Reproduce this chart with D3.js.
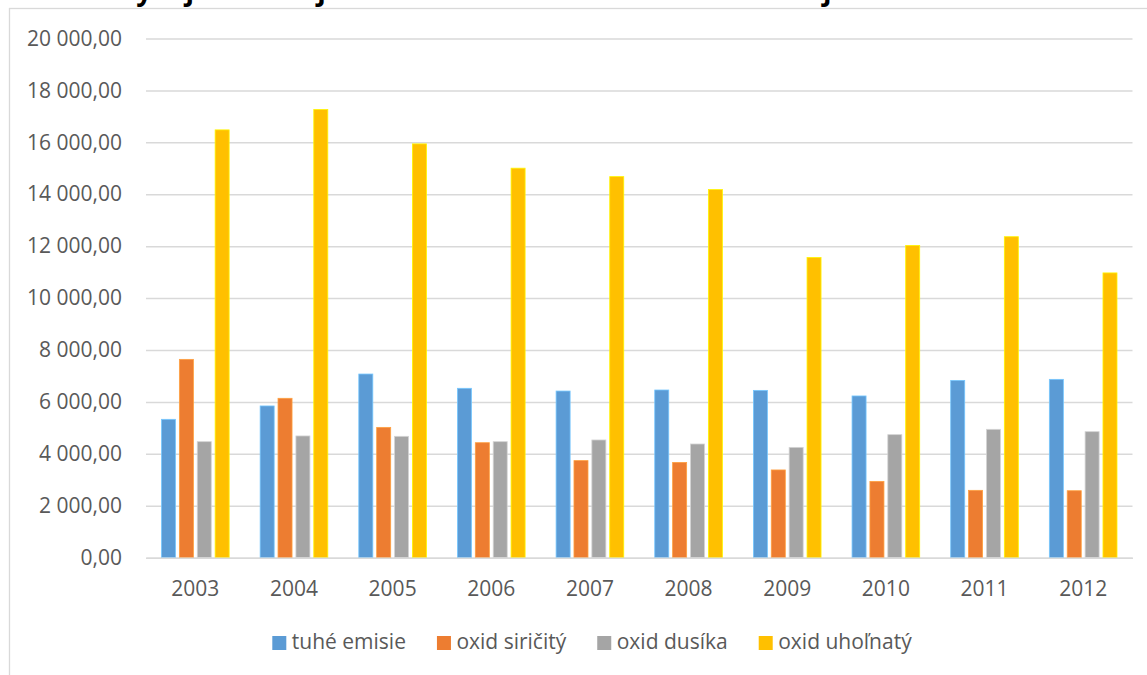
<!DOCTYPE html>
<html>
<head>
<meta charset="utf-8">
<script src="https://cdn.jsdelivr.net/npm/d3@7"></script>
<style>
  html, body { margin: 0; padding: 0; background: #fff; }
  svg { display: block; }
  text { font-family: "Open Sans", "Noto Sans", sans-serif; }
</style>
</head>
<body>
<svg id="chart" width="1147" height="675"></svg>
<script>
const years = ["2003","2004","2005","2006","2007","2008","2009","2010","2011","2012"];
const seriesNames = ["tuhé emisie","oxid siričitý","oxid dusíka","oxid uhoľnatý"];
const seriesColors = ["#5B9BD5","#ED7D31","#A5A5A5","#FFC000"];
const tuheEmisie   = [5330, 5845, 7075, 6525, 6420, 6460, 6445, 6230, 6830, 6870];
const oxidSiricity = [7640, 6140, 5020, 4430, 3740, 3670, 3380, 2940, 2595, 2580];
const oxidDusika   = [4470, 4690, 4675, 4470, 4535, 4380, 4250, 4740, 4945, 4855];
const oxidUholnaty = [16480, 17265, 15940, 15005, 14680, 14180, 11565, 12030, 12365, 10970];
const yTicks = [0,2000,4000,6000,8000,10000,12000,14000,16000,18000,20000];
const titleText = "Vývoj znečisťujúcich látok v Stredoslovenskom kraji v t/rok";

const seriesValues = [tuheEmisie, oxidSiricity, oxidDusika, oxidUholnaty];

const svg = d3.select("#chart");
const W = 1147, H = 675;
const plot = {left: 146, right: 1132.5, top: 38.5, bottom: 557.7};

svg.append("rect").attr("width", W).attr("height", H).attr("fill", "#fff");

// chart area border (extends past the window on right/bottom)
svg.append("rect")
  .attr("x", 9.5).attr("y", 8.5)
  .attr("width", 1200).attr("height", 700)
  .attr("fill", "none").attr("stroke", "#d9d9d9").attr("stroke-width", 1.3);

// title, mostly cut off at top (as in the reference)
svg.append("text")
  .attr("x", 118).attr("y", 0)
  .attr("font-size", 28).attr("font-weight", "bold")
  .attr("fill", "#000")
  .text(titleText);

const locale = d3.formatLocale({decimal: ",", thousands: " ", grouping: [3], currency: ["", " €"]});
const fmt = locale.format(",.2f");

const y = d3.scaleLinear().domain([0, 20000]).range([plot.bottom, plot.top]);
const x0 = d3.scaleBand().domain(years).range([plot.left, plot.right]).padding(0);
const groupPad = 15.5;
const x1 = d3.scaleBand().domain(d3.range(4))
  .range([groupPad, x0.bandwidth() - groupPad]).paddingInner(0.216).paddingOuter(0);

// gridlines
const yAxis = d3.axisLeft(y).tickValues(yTicks).tickSize(-(plot.right - plot.left)).tickFormat(fmt).tickPadding(24);
const gy = svg.append("g").attr("transform", `translate(${plot.left},0)`).call(yAxis);
gy.select(".domain").remove();
gy.selectAll(".tick line").attr("stroke", "#d9d9d9").attr("stroke-width", 1.5);
gy.selectAll(".tick text").attr("font-size", 21).attr("fill", "#595959")
  .attr("font-family", "Open Sans, sans-serif");

// bars
const groups = svg.append("g").selectAll("g").data(years).join("g")
  .attr("transform", d => `translate(${x0(d)},0)`);
groups.selectAll("rect")
  .data((yr, i) => seriesValues.map((arr, s) => ({s, v: arr[i]})))
  .join("rect")
  .attr("x", d => x1(d.s))
  .attr("width", x1.bandwidth())
  .attr("y", d => y(d.v))
  .attr("height", d => y(0) - y(d.v))
  .attr("fill", d => seriesColors[d.s])
  .attr("stroke", d => d3.color(seriesColors[d.s]).brighter(0.7))
  .attr("stroke-width", 0.8);

// x axis
const xAxis = d3.axisBottom(x0).tickSize(0).tickPadding(0);
const gx = svg.append("g").attr("transform", `translate(0,${plot.bottom})`).call(xAxis);
gx.select(".domain").attr("stroke", "#d9d9d9").attr("stroke-width", 1.5);
gx.selectAll(".tick text").attr("font-size", 21).attr("fill", "#595959")
  .attr("font-family", "Open Sans, sans-serif")
  .attr("dy", 0).attr("y", 38.5);

// legend
const legend = svg.append("g");
const items = legend.selectAll("g").data(seriesNames).join("g");
items.append("rect").attr("width", 14).attr("height", 14).attr("y", 636)
  .attr("fill", (d, i) => seriesColors[i]);
items.append("text").attr("y", 649.3).attr("font-size", 21).attr("fill", "#595959")
  .text(d => d);
let cx = 0;
const offsets = [];
items.each(function() {
  const tw = d3.select(this).select("text").node().getComputedTextLength();
  offsets.push(cx);
  cx += 14 + 5.5 + tw + 31;
});
const totalW = cx - 31;
const startX = 592 - totalW / 2;
items.each(function(d, i) {
  const g = d3.select(this);
  g.select("rect").attr("x", startX + offsets[i]);
  g.select("text").attr("x", startX + offsets[i] + 19.5);
});
</script>
</body>
</html>
